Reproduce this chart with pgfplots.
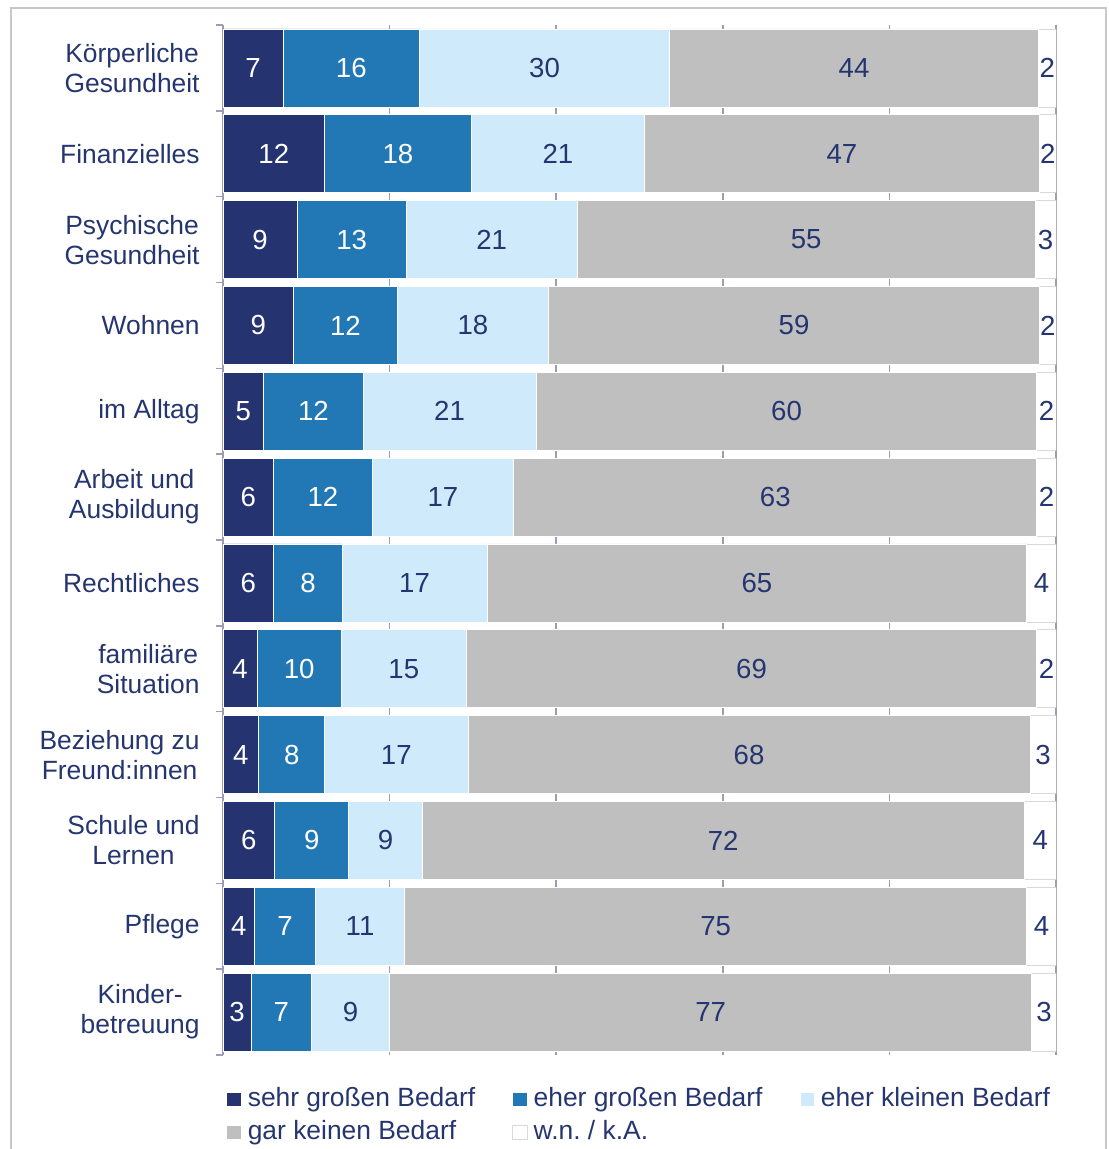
\documentclass[border=0pt]{standalone}
\usepackage{pgfplots}
\pgfplotsset{compat=1.18}
\usepackage{pgfplotstable}
\usepackage{fontspec}
\setmainfont{Liberation Sans}
\definecolor{navy}{HTML}{253370}
\definecolor{midblue}{HTML}{2277B5}
\definecolor{lightblue}{HTML}{CEEAFB}
\definecolor{greyc}{HTML}{BFBFBF}
\definecolor{gridc}{HTML}{9C9CB4}
\definecolor{framec}{HTML}{C8C8C8}
\definecolor{txt}{HTML}{253570}
\definecolor{wnborder}{HTML}{D9D9D9}

\pgfplotstableread{
y a la b lb c lc d ld e le
0 7.2 7 16.4 16 30.0 30 44.3 44 2.1 2
1 12.2 12 17.6 18 20.8 21 47.4 47 2.0 2
2 8.9 9 13.1 13 20.5 21 55.0 55 2.5 3
3 8.5 9 12.4 12 18.2 18 58.9 59 2.0 2
4 4.9 5 11.9 12 20.8 21 60.1 60 2.3 2
5 6.1 6 11.8 12 17.0 17 62.8 63 2.3 2
6 6.1 6 8.2 8 17.4 17 64.8 65 3.5 4
7 4.1 4 10.1 10 15.0 15 68.5 69 2.3 2
8 4.3 4 7.9 8 17.2 17 67.5 68 3.1 3
9 6.2 6 8.9 9 8.8 9 72.3 72 3.8 4
10 3.8 4 7.3 7 10.7 11 74.7 75 3.5 4
11 3.4 3 7.2 7 9.4 9 77.1 77 2.9 3
}\data

\begin{document}
\begin{tikzpicture}
\useasboundingbox (0,0) rectangle (554pt,574.5pt);
\draw[framec, line width=0.75pt] (5.5pt,-2pt) rectangle (553pt,570.5pt);
\begin{axis}[
  at={(111.5pt,47pt)}, anchor=south west,
  scale only axis, width=416.5pt, height=515pt,
  xbar stacked, bar width=39pt,
  xmin=0, xmax=100, ymin=-0.5, ymax=11.5, y dir=reverse,
  xtick={0,20,...,100}, xticklabels={}, xmajorgrids,
  grid style={gridc, line width=0.75pt},
  separate axis lines,
  x axis line style={draw=none},
  y axis line style={gridc, line width=0.75pt},
  xtick style={draw=none},
  ytick={0,...,11},
  yticklabels={{Körperliche\\Gesundheit},Finanzielles,{Psychische\\Gesundheit},Wohnen,im Alltag,{Arbeit und\\Ausbildung},Rechtliches,{familiäre\\Situation},{Beziehung zu\\Freund:innen},{Schule und\\Lernen},Pflege,{Kinder-\\betreuung}},
  minor ytick={-0.5,0.5,...,11.5},
  major tick length=0pt, minor tick length=3.5pt,
  tick align=outside, tick pos=left,
  ytick style={gridc, line width=0.75pt},
  minor tick style={gridc, line width=0.75pt},
  yticklabel style={align=center, font=\fontsize{13.2}{15}\selectfont, text=txt, inner sep=0pt, xshift=-11.5pt},
  nodes near coords, point meta=explicit symbolic,
  every node near coord/.append style={font=\fontsize{13.8}{16}\selectfont, text=txt},
  legend columns=3, legend cell align=left,
  legend image code/.code={\draw[#1, line width=0.5pt] (0pt,-3.6pt) rectangle (7.2pt,3.6pt);},
  legend style={at={(axis description cs:0,0)}, anchor=north west, xshift=-1.5pt, yshift=-13.5pt,
    draw=none, fill=none, font=\fontsize{13.2}{15}\selectfont, text=txt,
    nodes={inner sep=0pt, text height=10pt, text depth=3pt},
    row sep=3.5pt,
    /tikz/every odd column/.append style={column sep=3pt},
    /tikz/every even column/.append style={column sep=18.5pt}},
]
\addplot[fill=navy, draw=white, line width=0.4pt, every node near coord/.append style={text=white}] table[x=a, y=y, meta=la]{\data};
\addlegendentry{sehr großen Bedarf}
\addplot[fill=midblue, draw=white, line width=0.4pt, every node near coord/.append style={text=white}] table[x=b, y=y, meta=lb]{\data};
\addlegendentry{eher großen Bedarf}
\addplot[fill=lightblue, draw=white, line width=0.4pt] table[x=c, y=y, meta=lc]{\data};
\addlegendentry{eher kleinen Bedarf}
\addplot[fill=greyc, draw=white, line width=0.4pt] table[x=d, y=y, meta=ld]{\data};
\addlegendentry{gar keinen Bedarf}
\addplot[fill=white, draw=wnborder, line width=0.4pt] table[x=e, y=y, meta=le]{\data};
\addlegendentry{w.n.\ / k.A.}
\end{axis}
\end{tikzpicture}
\end{document}
